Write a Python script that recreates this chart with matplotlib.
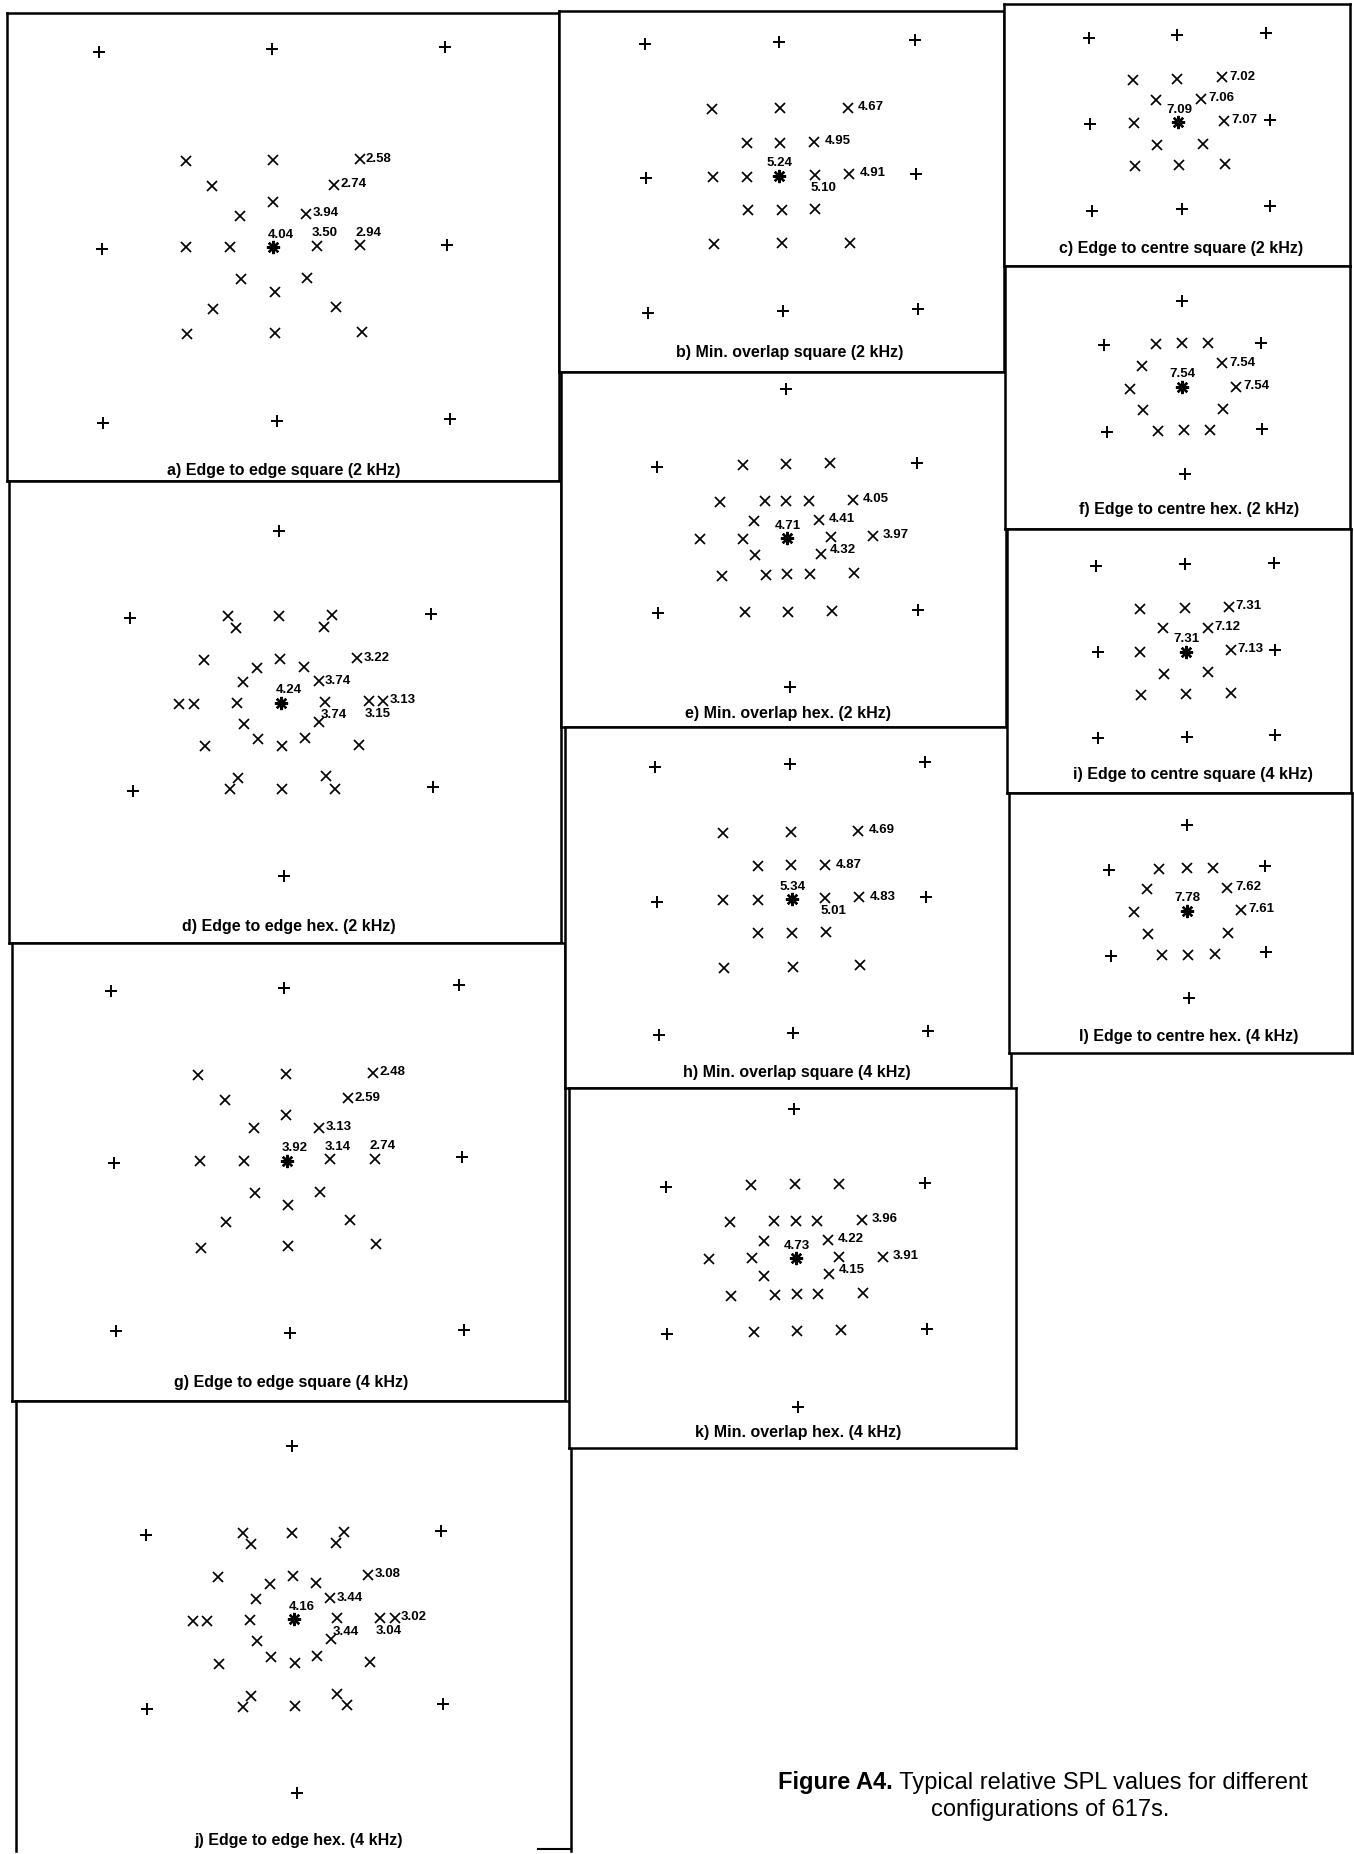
import matplotlib.pyplot as plt

plt.rcParams['font.family'] = ['Liberation Sans', 'DejaVu Sans']

W, H = 1354, 1854

# marker positions in grid units, centre loudspeaker (asterisk) at (0, 0), y up
a_plus_x = [-4.0, -0.03, 3.94, -3.95, 4.0, -3.92, 0.07, 4.05]
a_plus_y = [4.5, 4.55, 4.61, -0.05, 0.05, -4.05, -4.0, -3.95]
a_cross_x = [-2.02, -0.02, 1.98, -1.42, 1.4, -0.02, -0.77, 0.75, -2.0, -1.0,
             1.0, 2.0, -0.74, 0.76, 0.03, -1.38, 1.44, -1.98, 0.03, 2.03]
a_cross_y = [1.99, 2.0, 2.02, 1.4, 1.44, 1.05, 0.73, 0.77, 0.0, 0.0,
             0.03, 0.05, -0.73, -0.7, -1.02, -1.41, -1.37, -2.0, -1.97, -1.95]
a_labels = [("2.58", 1.98, 2.02, "r"), ("2.74", 1.4, 1.44, "r"), ("3.94", 0.75, 0.77, "r"),
            ("4.04", 0, 0, "ar"), ("3.50", 1.0, 0.03, "ar"), ("2.94", 2.0, 0.05, "ar")]

b_plus_x = [-3.97, 0.0, 4.01, -3.94, 4.04, -3.89, 0.12, 4.09]
b_plus_y = [3.92, 3.97, 4.02, -0.07, 0.06, -4.04, -3.99, -3.93]
b_cross_x = [-1.98, 0.02, 2.02, -0.97, 0.02, 1.03, -1.95, -0.97, 1.05, 2.06,
             -0.94, 0.07, 1.07, -1.93, 0.07, 2.08]
b_cross_y = [1.97, 2.0, 2.02, 0.99, 0.99, 1.01, -0.02, -0.02, 0.03, 0.06,
             -1.0, -1.0, -0.97, -2.02, -1.99, -1.97]
b_labels = [("4.67", 2.02, 2.02, "r"), ("4.95", 1.03, 1.01, "r"), ("5.24", 0, 0, "a"),
            ("5.10", 1.05, 0.03, "br"), ("4.91", 2.06, 0.06, "r")]

c_plus_x = [-4.0, -0.05, 3.92, -3.94, 4.08, -3.86, 0.14, 4.1]
c_plus_y = [3.77, 3.88, 3.97, -0.1, 0.08, -3.95, -3.88, -3.74]
c_cross_x = [-2.02, -0.05, 1.95, -1.0, 1.0, -2.0, 2.03, -0.97, 1.08, -1.94, 0.03, 2.06]
c_cross_y = [1.89, 1.95, 2.0, 0.97, 1.03, -0.03, 0.05, -1.03, -0.97, -1.97, -1.92, -1.88]
c_labels = [("7.02", 1.95, 2.0, "r"), ("7.06", 1.0, 1.03, "r"), ("7.09", 0, 0, "a"),
            ("7.07", 2.03, 0.05, "r")]

d_plus_x = [-0.03, -3.43, 3.43, -3.38, 3.47, 0.07]
d_plus_y = [3.92, 1.94, 2.02, -2.02, -1.92, -3.95]
d_cross_x = [-1.21, -1.01, -0.03, 1.18, 0.98, -1.74, -0.02, 1.75, -0.53, 0.53,
             -0.86, 0.87, -2.33, -1.99, -0.99, 1.02, 2.02, 2.34, -0.83, 0.87,
             -0.51, 0.02, 0.56, -1.73, 1.78, -0.98, -1.16, 0.04, 1.04, 1.23]
d_cross_y = [1.97, 1.71, 1.98, 2.01, 1.73, 0.97, 1.0, 1.01, 0.8, 0.82,
             0.47, 0.49, -0.02, -0.02, 0.0, 0.02, 0.04, 0.04, -0.48, -0.45,
             -0.83, -0.98, -0.81, -1.0, -0.96, -1.72, -1.98, -1.97, -1.68, -1.96]
d_labels = [("3.22", 1.75, 1.01, "r"), ("3.74", 0.87, 0.49, "r"), ("4.24", 0, 0, "ar"),
            ("3.13", 2.34, 0.04, "r"), ("3.74", 1.02, 0.02, "br"), ("3.15", 2.02, 0.04, "br")]

e_plus_x = [-0.03, -2.99, 2.96, -2.95, 3.0, 0.06]
e_plus_y = [3.41, 1.64, 1.73, -1.72, -1.63, -3.4]
e_cross_x = [-1.02, -0.03, 0.98, -1.53, -0.51, -0.02, 0.49, 1.5, -0.76, 0.73,
             -1.99, -1.01, 0.99, 1.97, -0.74, 0.76, -1.5, -0.49, 0.0, 0.52, 1.53,
             -0.97, 0.02, 1.02]
e_cross_y = [1.68, 1.7, 1.72, 0.82, 0.85, 0.86, 0.86, 0.88, 0.4, 0.42,
             -0.02, -0.01, 0.04, 0.05, -0.39, -0.37, -0.86, -0.84, -0.82, -0.82, -0.8,
             -1.69, -1.68, -1.66]
e_labels = [("4.05", 1.5, 0.88, "r"), ("4.41", 0.73, 0.42, "r"), ("4.71", 0, 0, "a"),
            ("3.97", 1.97, 0.05, "r"), ("4.32", 0.76, -0.37, "ru")]

f_plus_x = [0.0, -2.99, 3.07, -2.89, 3.13, 0.13]
f_plus_y = [3.31, 1.6, 1.71, -1.76, -1.65, -3.39]
f_cross_x = [-1.0, 0.0, 1.01, -1.53, 1.57, -2.0, 2.11, -1.49, 1.61, -0.93, 0.11, 1.11]
f_cross_y = [1.67, 1.68, 1.68, 0.81, 0.91, -0.07, 0.0, -0.92, -0.87, -1.72, -1.69, -1.69]
f_labels = [("7.54", 1.57, 0.91, "r"), ("7.54", 0, 0, "a"), ("7.54", 2.11, 0.0, "r")]

g_plus_x = [-4.04, -0.07, 3.93, -3.98, 4.0, -3.92, 0.07, 4.06]
g_plus_y = [3.89, 3.95, 4.02, -0.06, 0.08, -3.9, -3.95, -3.89]
g_cross_x = [-2.04, -0.03, 1.96, -1.43, 1.39, -0.02, -0.77, 0.73, -2.0, -1.0,
             0.98, 2.0, -0.73, 0.75, 0.02, -1.4, 1.43, -1.98, 0.02, 2.04]
g_cross_y = [1.96, 2.0, 2.02, 1.39, 1.43, 1.05, 0.74, 0.76, 0.0, 0.0,
             0.03, 0.05, -0.73, -0.71, -1.02, -1.41, -1.36, -2.0, -1.95, -1.91]
g_labels = [("2.48", 1.96, 2.02, "r"), ("2.59", 1.39, 1.43, "r"), ("3.13", 0.73, 0.76, "r"),
            ("3.92", 0, 0, "ar"), ("3.14", 0.98, 0.03, "ar"), ("2.74", 2.0, 0.05, "ar")]

h_plus_x = [-4.04, -0.05, 3.94, -3.99, 3.97, -3.94, 0.05, 4.02]
h_plus_y = [3.92, 3.99, 4.05, -0.07, 0.06, -4.01, -3.96, -3.89]
h_cross_x = [-2.04, -0.03, 1.97, -1.01, -0.03, 0.99, -2.02, -1.01, 0.99, 2.0,
             -0.99, 0.0, 1.02, -2.0, 0.03, 2.02]
h_cross_y = [1.95, 1.99, 2.03, 0.99, 1.0, 1.0, -0.02, -0.02, 0.03, 0.06,
             -0.99, -0.99, -0.97, -2.02, -1.99, -1.95]
h_labels = [("4.69", 1.97, 2.03, "r"), ("4.87", 0.99, 1.0, "r"), ("5.34", 0, 0, "a"),
            ("5.01", 0.99, 0.03, "br"), ("4.83", 2.0, 0.06, "r")]

i_plus_x = [-3.97, -0.03, 3.86, -3.89, 3.94, -3.86, 0.05, 3.94]
i_plus_y = [3.77, 3.85, 3.89, -0.02, 0.06, -3.83, -3.76, -3.68]
i_cross_x = [-2.02, -0.03, 1.89, -1.03, 0.95, -2.02, 1.97, -0.98, 0.98, -2.0, 0.0, 2.0]
i_cross_y = [1.89, 1.92, 1.97, 1.02, 1.05, 0.0, 0.06, -0.98, -0.92, -1.91, -1.86, -1.83]
i_labels = [("7.31", 1.89, 1.97, "r"), ("7.12", 0.95, 1.05, "r"), ("7.31", 0, 0, "a"),
            ("7.13", 1.97, 0.06, "r")]

j_plus_x = [-0.05, -3.4, 3.37, -3.37, 3.42, 0.07]
j_plus_y = [3.97, 1.93, 2.02, -2.05, -1.95, -3.98]
j_cross_x = [-1.17, -0.98, -0.04, 1.16, 0.97, -1.74, -0.02, 1.71, -0.55, 0.51,
             -0.87, 0.84, -2.32, -1.99, -1.0, 0.99, 1.98, 2.31, -0.85, 0.86,
             -0.52, 0.02, 0.54, -1.72, 1.74, -0.98, -1.16, 0.03, 1.0, 1.21]
j_cross_y = [1.97, 1.72, 1.98, 2.01, 1.74, 0.96, 1.0, 1.02, 0.81, 0.83,
             0.46, 0.48, -0.03, -0.03, -0.02, 0.02, 0.03, 0.03, -0.49, -0.46,
             -0.86, -1.0, -0.84, -1.02, -0.98, -1.75, -2.0, -1.98, -1.71, -1.96]
j_labels = [("3.08", 1.71, 1.02, "r"), ("3.44", 0.84, 0.48, "r"), ("4.16", 0, 0, "ar"),
            ("3.02", 2.31, 0.03, "r"), ("3.44", 0.99, 0.02, "br"), ("3.04", 1.98, 0.03, "br")]

k_plus_x = [-0.03, -2.99, 2.97, -2.95, 3.01, 0.06]
k_plus_y = [3.43, 1.65, 1.74, -1.74, -1.63, -3.41]
k_cross_x = [-1.03, -0.02, 0.99, -1.52, -0.51, 0.0, 0.5, 1.52, -0.74, 0.75,
             -1.99, -1.0, 1.0, 2.0, -0.73, 0.77, -1.49, -0.48, 0.02, 0.52, 1.54,
             -0.96, 0.04, 1.04]
k_cross_y = [1.69, 1.7, 1.71, 0.84, 0.85, 0.85, 0.85, 0.88, 0.4, 0.42,
             -0.02, 0.0, 0.02, 0.04, -0.4, -0.37, -0.86, -0.84, -0.83, -0.82, -0.8,
             -1.69, -1.67, -1.65]
k_labels = [("3.96", 1.52, 0.88, "r"), ("4.22", 0.75, 0.42, "r"), ("4.73", 0, 0, "a"),
            ("3.91", 2.0, 0.04, "r"), ("4.15", 0.77, -0.37, "ru")]

l_plus_x = [0.0, -2.96, 2.96, -2.91, 3.03, 0.07]
l_plus_y = [3.26, 1.55, 1.71, -1.74, -1.58, -3.32]
l_cross_x = [-1.05, -0.01, 1.01, -1.53, 1.54, -2.01, 2.07, -1.49, 1.57, -0.96, 0.05, 1.08]
l_cross_y = [1.61, 1.62, 1.64, 0.83, 0.88, -0.04, 0.03, -0.89, -0.83, -1.68, -1.67, -1.64]
l_labels = [("7.62", 1.54, 0.88, "r"), ("7.78", 0, 0, "a"), ("7.61", 2.07, 0.03, "r")]

titles = {
    'a': "a) Edge to edge square (2 kHz)",
    'b': "b) Min. overlap square (2 kHz)",
    'c': "c) Edge to centre square (2 kHz)",
    'd': "d) Edge to edge hex. (2 kHz)",
    'e': "e) Min. overlap hex. (2 kHz)",
    'f': "f) Edge to centre hex. (2 kHz)",
    'g': "g) Edge to edge square (4 kHz)",
    'h': "h) Min. overlap square (4 kHz)",
    'i': "i) Edge to centre square (4 kHz)",
    'j': "j) Edge to edge hex. (4 kHz)",
    'k': "k) Min. overlap hex. (4 kHz)",
    'l': "l) Edge to centre hex. (4 kHz)",
}

data = {
    'a': (a_plus_x, a_plus_y, a_cross_x, a_cross_y, a_labels),
    'b': (b_plus_x, b_plus_y, b_cross_x, b_cross_y, b_labels),
    'c': (c_plus_x, c_plus_y, c_cross_x, c_cross_y, c_labels),
    'd': (d_plus_x, d_plus_y, d_cross_x, d_cross_y, d_labels),
    'e': (e_plus_x, e_plus_y, e_cross_x, e_cross_y, e_labels),
    'f': (f_plus_x, f_plus_y, f_cross_x, f_cross_y, f_labels),
    'g': (g_plus_x, g_plus_y, g_cross_x, g_cross_y, g_labels),
    'h': (h_plus_x, h_plus_y, h_cross_x, h_cross_y, h_labels),
    'i': (i_plus_x, i_plus_y, i_cross_x, i_cross_y, i_labels),
    'j': (j_plus_x, j_plus_y, j_cross_x, j_cross_y, j_labels),
    'k': (k_plus_x, k_plus_y, k_cross_x, k_cross_y, k_labels),
    'l': (l_plus_x, l_plus_y, l_cross_x, l_cross_y, l_labels),
}

# layout in image pixels: box (left, top, right, bottom), centre pixel, px per unit,
# caption centre, gap for right-hand labels (pt)
layout = {
    'a': dict(box=(7, 13, 559, 481), centre=(273.5, 247.3), unit=43.5, cap=(283.6, 470.0), gap=4.5),
    'd': dict(box=(9, 481, 561, 943), centre=(280.7, 702.7), unit=43.8, cap=(289.0, 926.7), gap=4.5),
    'g': dict(box=(12, 943, 565, 1401), centre=(287.3, 1160.7), unit=43.6, cap=(291.0, 1382.7), gap=4.5),
    'j': dict(box=(16, 1401, 571, 1851), centre=(293.8, 1619.3), unit=43.6, cap=(298.2, 1841.0), gap=4.5),
    'b': dict(box=(559, 11, 1004, 372), centre=(779.3, 176.0), unit=33.8, cap=(790.0, 352.7), gap=7.5),
    'e': dict(box=(561, 372, 1006, 727), centre=(787.3, 538.3), unit=43.7, cap=(788.3, 713.3), gap=7.0),
    'h': dict(box=(565, 727, 1011, 1088), centre=(791.7, 899.3), unit=33.8, cap=(796.7, 1072.7), gap=7.5),
    'k': dict(box=(569, 1088, 1016, 1448), centre=(795.7, 1258.3), unit=43.5, cap=(798.3, 1432.7), gap=7.0),
    'c': dict(box=(1004, 4, 1350, 266), centre=(1178.4, 122.2), unit=22.4, cap=(1180.8, 248.0), gap=5.5),
    'f': dict(box=(1005, 266, 1350, 529), centre=(1181.5, 386.7), unit=25.8, cap=(1189.0, 509.6), gap=5.5),
    'i': dict(box=(1007, 529, 1351, 793), centre=(1186.0, 651.5), unit=22.7, cap=(1192.8, 774.8), gap=5.0),
    'l': dict(box=(1009, 793, 1352, 1053), centre=(1187.0, 910.8), unit=26.2, cap=(1189.0, 1036.5), gap=5.5),
}

label_style = {
    'r': ((None, 0.5), 'left'),
    'ru': ((None, 3.0), 'left'),
    'a': ((0.5, 9.0), 'center'),
    'ar': ((5.5, 9.0), 'center'),
    'br': ((6.0, -9.5), 'center'),
}

fig = plt.figure(figsize=(W / 100, H / 100), dpi=100)

for key in 'abcdefghijkl':
    lay = layout[key]
    L, T, R, B = lay['box']
    cx, cy = lay['centre']
    u = lay['unit']
    plus_x, plus_y, cross_x, cross_y, labels = data[key]

    ax = fig.add_axes([L / W, 1 - B / H, (R - L) / W, (B - T) / H])
    ax.set_xlim((L - cx) / u, (R - cx) / u)
    ax.set_ylim((cy - B) / u, (cy - T) / u)
    ax.set_xticks([])
    ax.set_yticks([])
    for sp in ax.spines.values():
        sp.set_linewidth(1.8)

    ax.plot(plus_x, plus_y, ls='none', marker='+', ms=8.5, mew=1.4, color='k')
    ax.plot(cross_x, cross_y, ls='none', marker='x', ms=7, mew=1.25, color='k')
    ax.plot([0], [0], ls='none', marker=(8, 2, 0), ms=9.5, mew=1.7, color='k')

    for txt, x, y, mode in labels:
        (dx, dy), ha = label_style[mode]
        if dx is None:
            dx = lay['gap']
        ax.annotate(txt, (x, y), xytext=(dx, dy), textcoords='offset points',
                    ha=ha, va='center', fontsize=9.5, fontweight='bold')

    fig.text(lay['cap'][0] / W, 1 - lay['cap'][1] / H, titles[key],
             ha='center', va='center', fontsize=11.5, fontweight='bold')

    if key == 'j':
        # bottom of the last panel is cut off in the scan
        ax.spines['bottom'].set_visible(False)
        ax.plot([0.94, 1.0], [0.004, 0.004], transform=ax.transAxes, color='k', lw=1.5,
                clip_on=False)

# figure caption
bg = fig.add_axes([0, 0, 1, 1], zorder=-1)
bg.axis('off')
bold = bg.text(778 / W, 1 - 1783 / H, "Figure A4.", ha='left', va='center',
               fontsize=17, fontweight='bold')
bg.annotate(" Typical relative SPL values for different", xy=(1, 0), xycoords=bold,
            ha='left', va='bottom', fontsize=17)
bg.text(1050 / W, 1 - 1810 / H, "configurations of 617s.", ha='center', va='center',
        fontsize=17)

fig.savefig("out.png", dpi=100, facecolor='white')
